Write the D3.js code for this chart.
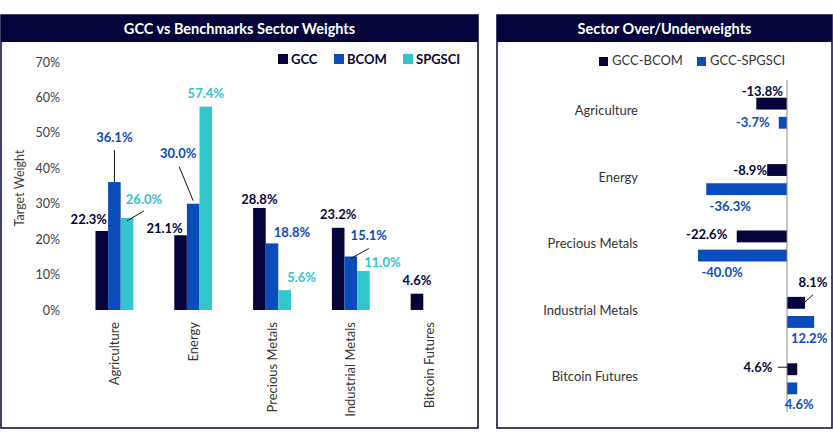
<!DOCTYPE html>
<html>
<head>
<meta charset="utf-8">
<script src="https://cdn.jsdelivr.net/npm/d3@7"></script>
<style>
  html, body { margin: 0; padding: 0; background: #fff; }
  svg text { font-family: Lato, "Noto Sans", sans-serif; }
</style>
</head>
<body>
<div id="chart"></div>
<script>
// --- Data ---
const sectors = ["Agriculture", "Energy", "Precious Metals", "Industrial Metals", "Bitcoin Futures"];
const weightSeries = ["GCC", "BCOM", "SPGSCI"];
const gccWeights = [22.3, 21.1, 28.8, 23.2, 4.6];
const bcomWeights = [36.1, 30.0, 18.8, 15.1, null];
const spgsciWeights = [26.0, 57.4, 5.6, 11.0, null];
const yTicks = [0, 10, 20, 30, 40, 50, 60, 70];

const diffSeries = ["GCC-BCOM", "GCC-SPGSCI"];
const gccVsBcom = [-13.8, -8.9, -22.6, 8.1, 4.6];
const gccVsSpgsci = [-3.7, -36.3, -40.0, 12.2, 4.6];

const navy = "#05053b";
const blue = "#0a4cbc";
const cyan = "#33c6cc";
const weightColors = { GCC: navy, BCOM: blue, SPGSCI: cyan };
const diffColors = { "GCC-BCOM": navy, "GCC-SPGSCI": blue };

// label nudges (dx, dy from bar top centre) and optional leader lines
const weightLabelNudge = {
  "Agriculture|GCC": { dx: -13, dy: -12 },
  "Agriculture|BCOM": { dx: 0, dy: -45, leader: [[0, -32], [0, 0]] },
  "Agriculture|SPGSCI": { dx: 17, dy: -18, leader: [[17, -7], [0, 3]] },
  "Energy|GCC": { dx: -16, dy: -7 },
  "Energy|BCOM": { dx: -15, dy: -50, leader: [[-14, -37], [0, -3]] },
  "Energy|SPGSCI": { dx: 0, dy: -13 },
  "Precious Metals|GCC": { dx: 0, dy: -9 },
  "Precious Metals|BCOM": { dx: 20, dy: -11 },
  "Precious Metals|SPGSCI": { dx: 17, dy: -13 },
  "Industrial Metals|GCC": { dx: 0, dy: -13 },
  "Industrial Metals|BCOM": { dx: 18, dy: -21, leader: [[18, -8], [0, 2]] },
  "Industrial Metals|SPGSCI": { dx: 19, dy: -9 },
  "Bitcoin Futures|GCC": { dx: 0, dy: -13 }
};

const svg = d3.select("#chart").append("svg")
  .attr("width", 833)
  .attr("height", 444)
  .attr("viewBox", "0 0 833 444");

function panel(x0, x1, title) {
  svg.append("rect")
    .attr("x", x0).attr("y", 15)
    .attr("width", x1 - x0).attr("height", 413)
    .attr("fill", "none").attr("stroke", navy).attr("stroke-width", 1.5);
  svg.append("rect")
    .attr("x", x0).attr("y", 15)
    .attr("width", x1 - x0).attr("height", 27)
    .attr("fill", navy);
  svg.append("text")
    .attr("x", (x0 + x1) / 2).attr("y", 33.5)
    .attr("text-anchor", "middle")
    .attr("fill", "#fff")
    .style("font-size", "14.5px").style("font-weight", "700")
    .text(title);
}

// ===== Left panel: sector weights =====
panel(1, 478, "GCC vs Benchmarks Sector Weights");

const x0 = d3.scaleBand().domain(sectors).range([75, 469]).paddingInner(0.52).paddingOuter(0.26);
const x1 = d3.scaleBand().domain(weightSeries).range([0, x0.bandwidth()]);
const y = d3.scaleLinear().domain([0, 70]).range([310, 62]);

const weightRows = [];
sectors.forEach((s, i) => {
  [gccWeights, bcomWeights, spgsciWeights].forEach((arr, j) => {
    if (arr[i] != null) weightRows.push({ sector: s, series: weightSeries[j], value: arr[i] });
  });
});

const yAxis = svg.append("g")
  .attr("transform", "translate(60,0)")
  .call(d3.axisLeft(y).tickValues(yTicks).tickFormat(d => d + "%").tickSize(0).tickPadding(0));
yAxis.select(".domain").remove();
yAxis.selectAll("text")
  .attr("fill", "#404040")
  .style("font-size", "12.5px")
  .style("font-family", "Lato, sans-serif");

svg.append("text")
  .attr("transform", "translate(24,188) rotate(-90)")
  .attr("text-anchor", "middle")
  .attr("fill", "#404040")
  .style("font-size", "12.5px")
  .text("Target Weight");

svg.append("g").selectAll("rect")
  .data(weightRows)
  .join("rect")
  .attr("x", d => x0(d.sector) + x1(d.series))
  .attr("y", d => y(d.value))
  .attr("width", x1.bandwidth())
  .attr("height", d => y(0) - y(d.value))
  .attr("fill", d => weightColors[d.series]);

const wl = svg.append("g");
weightRows.forEach(d => {
  const cx = x0(d.sector) + x1(d.series) + x1.bandwidth() / 2;
  const ty = y(d.value);
  const n = weightLabelNudge[d.sector + "|" + d.series] || { dx: 0, dy: -10 };
  if (n.leader) {
    wl.append("line")
      .attr("x1", cx + n.leader[0][0]).attr("y1", ty + n.leader[0][1])
      .attr("x2", cx + n.leader[1][0]).attr("y2", ty + n.leader[1][1])
      .attr("stroke", "#111").attr("stroke-width", 1);
  }
  wl.append("text")
    .attr("x", cx + n.dx).attr("y", ty + n.dy)
    .attr("dy", "0.35em")
    .attr("text-anchor", "middle")
    .attr("fill", d.series === "SPGSCI" ? cyan : weightColors[d.series])
    .style("font-size", "13px").style("font-weight", "700")
    .text(d.value.toFixed(1) + "%");
});

// category labels (rotated)
const xAxis = svg.append("g")
  .attr("transform", "translate(0,318)")
  .call(d3.axisBottom(x0).tickSize(0).tickPadding(0));
xAxis.select(".domain").remove();
xAxis.selectAll("text")
  .attr("transform", "rotate(-90)")
  .attr("text-anchor", "end")
  .attr("x", -4).attr("y", 0).attr("dy", "0.35em")
  .attr("fill", "#333")
  .style("font-size", "13px")
  .style("font-family", "Lato, sans-serif");

// legend
const legW = svg.append("g").attr("transform", "translate(278,59)");
const legWx = [0, 56, 125];
weightSeries.forEach((s, i) => {
  const g = legW.append("g").attr("transform", `translate(${legWx[i]},0)`);
  g.append("rect").attr("x", 0).attr("y", -5).attr("width", 10).attr("height", 10).attr("fill", weightColors[s]);
  g.append("text").attr("x", 13).attr("y", 0).attr("dy", "0.35em")
    .attr("fill", navy).style("font-size", "13px").style("font-weight", "700").text(s);
});

// ===== Right panel: over/underweights =====
panel(497, 832, "Sector Over/Underweights");

const yb = d3.scaleBand().domain(sectors).range([80, 412]);
const yi = d3.scaleBand().domain(diffSeries).range([yb.bandwidth() / 2 - 15.5, yb.bandwidth() / 2 + 15.5]).paddingInner(0.38);
const xd = d3.scaleLinear().domain([-40, 20]).range([698, 831.5]);

const diffRows = [];
sectors.forEach((s, i) => {
  diffRows.push({ sector: s, series: diffSeries[0], value: gccVsBcom[i] });
  diffRows.push({ sector: s, series: diffSeries[1], value: gccVsSpgsci[i] });
});

svg.append("g").selectAll("rect")
  .data(diffRows)
  .join("rect")
  .attr("x", d => xd(Math.min(0, d.value)))
  .attr("y", d => yb(d.sector) + yi(d.series))
  .attr("width", d => Math.abs(xd(d.value) - xd(0)))
  .attr("height", yi.bandwidth())
  .attr("fill", d => diffColors[d.series]);

svg.append("line")
  .attr("x1", xd(0)).attr("x2", xd(0))
  .attr("y1", 80).attr("y2", 412)
  .attr("stroke", "#8a8a8a").attr("stroke-width", 1);

// label nudges: anchor point relative to bar end / bar centre
const diffLabelNudge = {
  "Agriculture|GCC-BCOM": { at: "end", dx: 6, dy: -12 },
  "Agriculture|GCC-SPGSCI": { at: "end", dx: -26, dy: 0 },
  "Energy|GCC-BCOM": { at: "end", dx: -17, dy: 0 },
  "Energy|GCC-SPGSCI": { at: "end", dx: 24, dy: 17 },
  "Precious Metals|GCC-BCOM": { at: "end", dx: -30, dy: -2 },
  "Precious Metals|GCC-SPGSCI": { at: "end", dx: 24, dy: 17 },
  "Industrial Metals|GCC-BCOM": { at: "end", dx: 8, dy: -20, leader: [[8, -8], [0, -1]] },
  "Industrial Metals|GCC-SPGSCI": { at: "end", dx: -5, dy: 16 },
  "Bitcoin Futures|GCC-BCOM": { at: "zero", dx: -29, dy: -2, leader: [[-9, -2], [1, -2]] },
  "Bitcoin Futures|GCC-SPGSCI": { at: "end", dx: 2, dy: 16 }
};

const dl = svg.append("g");
diffRows.forEach(d => {
  const n = diffLabelNudge[d.sector + "|" + d.series];
  const bx = n.at === "zero" ? xd(0) : xd(d.value);
  const by = yb(d.sector) + yi(d.series) + yi.bandwidth() / 2;
  if (n.leader) {
    dl.append("line")
      .attr("x1", bx + n.leader[0][0]).attr("y1", by + n.leader[0][1])
      .attr("x2", bx + n.leader[1][0]).attr("y2", by + n.leader[1][1])
      .attr("stroke", "#111").attr("stroke-width", 1);
  }
  dl.append("text")
    .attr("x", bx + n.dx).attr("y", by + n.dy)
    .attr("dy", "0.35em")
    .attr("text-anchor", "middle")
    .attr("fill", diffColors[d.series])
    .style("font-size", "13px").style("font-weight", "700")
    .text(d.value.toFixed(1) + "%");
});

const yAxisR = svg.append("g")
  .attr("transform", "translate(638,0)")
  .call(d3.axisLeft(yb).tickSize(0).tickPadding(0));
yAxisR.select(".domain").remove();
yAxisR.selectAll("text")
  .attr("fill", "#333")
  .style("font-size", "13px")
  .style("font-family", "Lato, sans-serif");
yAxisR.selectAll(".tick").attr("transform", d => `translate(0,${yb(d) + yb.bandwidth() / 2 - 2})`);

// legend
const legD = svg.append("g").attr("transform", "translate(599,60)");
const legDx = [0, 98];
diffSeries.forEach((s, i) => {
  const g = legD.append("g").attr("transform", `translate(${legDx[i]},0)`);
  g.append("rect").attr("x", 0).attr("y", -3).attr("width", 9).attr("height", 9).attr("fill", diffColors[s]);
  g.append("text").attr("x", 13).attr("y", 0).attr("dy", "0.35em")
    .attr("fill", "#333").style("font-size", "13px").text(s);
});
</script>
</body>
</html>
